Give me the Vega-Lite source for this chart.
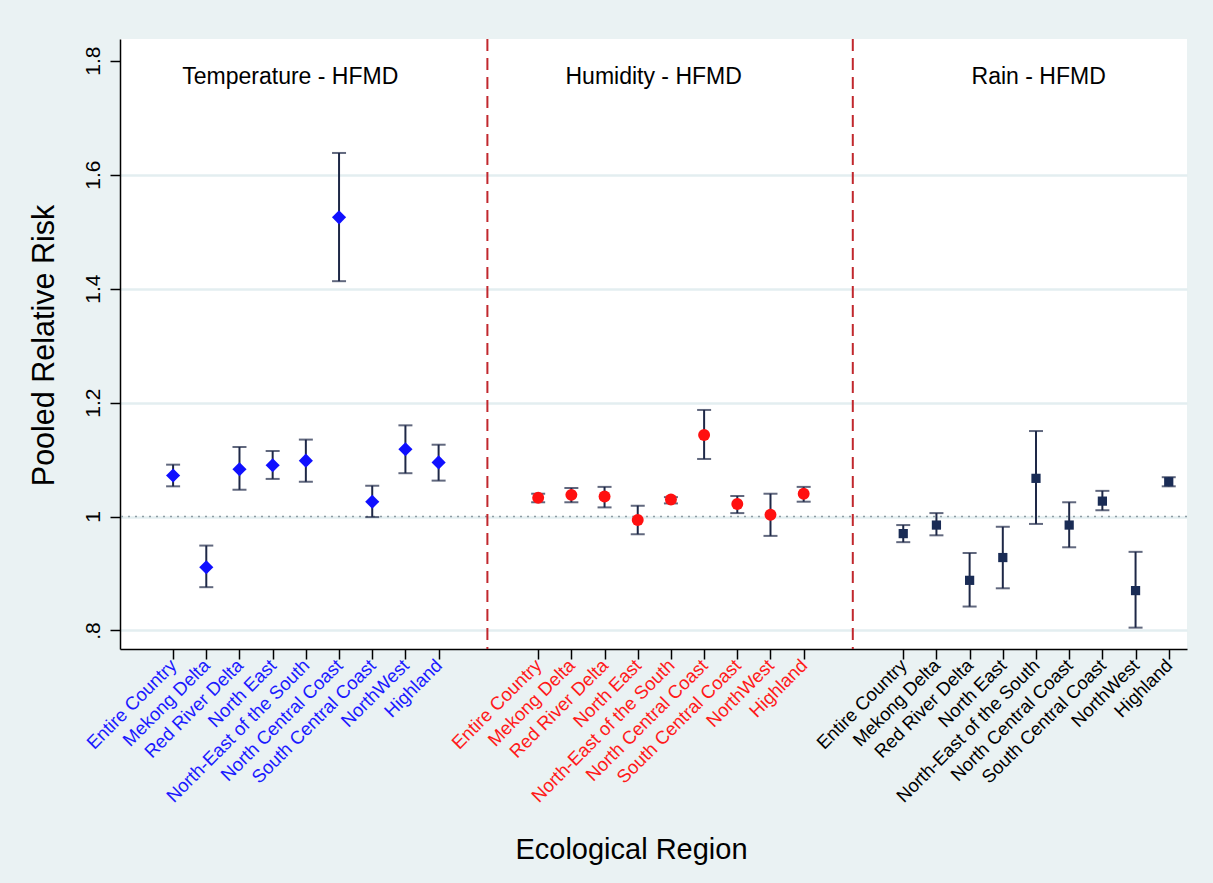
{
  "$schema": "https://vega.github.io/schema/vega-lite/v6.json",
  "width": 1067,
  "height": 610,
  "autosize": {"type": "none"},
  "padding": {"left": 120, "top": 39, "right": 26, "bottom": 234},
  "background": "#eaf2f3",
  "view": {"fill": "white", "stroke": null},
  "config": {"font": "Liberation Sans"},
  "datasets": {
    "est": [
      {"panel": "Temperature", "pos": 0, "region": "Entire Country", "rr": 1.072, "lo": 1.053, "hi": 1.091},
      {"panel": "Temperature", "pos": 1, "region": "Mekong Delta", "rr": 0.911, "lo": 0.876, "hi": 0.949},
      {"panel": "Temperature", "pos": 2, "region": "Red River Delta", "rr": 1.083, "lo": 1.047, "hi": 1.122},
      {"panel": "Temperature", "pos": 3, "region": "North East", "rr": 1.090, "lo": 1.066, "hi": 1.115},
      {"panel": "Temperature", "pos": 4, "region": "North-East of the South", "rr": 1.098, "lo": 1.061, "hi": 1.135},
      {"panel": "Temperature", "pos": 5, "region": "North Central Coast", "rr": 1.525, "lo": 1.413, "hi": 1.638},
      {"panel": "Temperature", "pos": 6, "region": "South Central Coast", "rr": 1.026, "lo": 0.999, "hi": 1.054},
      {"panel": "Temperature", "pos": 7, "region": "NorthWest", "rr": 1.118, "lo": 1.076, "hi": 1.160},
      {"panel": "Temperature", "pos": 8, "region": "Highland", "rr": 1.095, "lo": 1.063, "hi": 1.126},
      {"panel": "Humidity", "pos": 11, "region": "Entire Country", "rr": 1.033, "lo": 1.025, "hi": 1.040},
      {"panel": "Humidity", "pos": 12, "region": "Mekong Delta", "rr": 1.038, "lo": 1.025, "hi": 1.050},
      {"panel": "Humidity", "pos": 13, "region": "Red River Delta", "rr": 1.035, "lo": 1.016, "hi": 1.052},
      {"panel": "Humidity", "pos": 14, "region": "North East", "rr": 0.994, "lo": 0.969, "hi": 1.019},
      {"panel": "Humidity", "pos": 15, "region": "North-East of the South", "rr": 1.030, "lo": 1.023, "hi": 1.034},
      {"panel": "Humidity", "pos": 16, "region": "North Central Coast", "rr": 1.143, "lo": 1.101, "hi": 1.187},
      {"panel": "Humidity", "pos": 17, "region": "South Central Coast", "rr": 1.022, "lo": 1.006, "hi": 1.036},
      {"panel": "Humidity", "pos": 18, "region": "NorthWest", "rr": 1.003, "lo": 0.966, "hi": 1.040},
      {"panel": "Humidity", "pos": 19, "region": "Highland", "rr": 1.040, "lo": 1.026, "hi": 1.052},
      {"panel": "Rain", "pos": 22, "region": "Entire Country", "rr": 0.970, "lo": 0.955, "hi": 0.985},
      {"panel": "Rain", "pos": 23, "region": "Mekong Delta", "rr": 0.985, "lo": 0.967, "hi": 1.006},
      {"panel": "Rain", "pos": 24, "region": "Red River Delta", "rr": 0.888, "lo": 0.842, "hi": 0.936},
      {"panel": "Rain", "pos": 25, "region": "North East", "rr": 0.928, "lo": 0.874, "hi": 0.982},
      {"panel": "Rain", "pos": 26, "region": "North-East of the South", "rr": 1.067, "lo": 0.987, "hi": 1.150},
      {"panel": "Rain", "pos": 27, "region": "North Central Coast", "rr": 0.985, "lo": 0.946, "hi": 1.025},
      {"panel": "Rain", "pos": 28, "region": "South Central Coast", "rr": 1.027, "lo": 1.011, "hi": 1.045},
      {"panel": "Rain", "pos": 29, "region": "NorthWest", "rr": 0.870, "lo": 0.805, "hi": 0.938},
      {"panel": "Rain", "pos": 30, "region": "Highland", "rr": 1.061, "lo": 1.053, "hi": 1.069}
    ],
    "titles": [
      {"pos": 3.53, "rr": 1.759, "label": "Temperature - HFMD"},
      {"pos": 14.48, "rr": 1.759, "label": "Humidity - HFMD"},
      {"pos": 26.08, "rr": 1.759, "label": "Rain - HFMD"}
    ],
    "separators": [{"pos": 9.47}, {"pos": 20.48}],
    "reference": [{"rr": 1}]
  },
  "layer": [
    {
      "data": {"name": "reference"},
      "mark": {"type": "rule", "color": "#8d9ca3", "strokeWidth": 1.5, "strokeDash": [2, 5]},
      "encoding": {
        "y": {
          "field": "rr", "type": "quantitative", "title": "Pooled Relative Risk",
          "scale": {"domain": [0.7675, 1.838], "nice": false, "zero": false},
          "axis": {
            "values": [0.8, 1, 1.2, 1.4, 1.6, 1.8],
            "labelExpr": "datum.value == 1 ? '1' : datum.value < 1 ? '.8' : format(datum.value, '.1f')",
            "labelAngle": -90,
            "labelAlign": "center",
            "labelBaseline": "bottom",
            "labelFontSize": 21,
            "labelColor": "black",
            "labelPadding": 7,
            "tickSize": 10,
            "tickColor": "black",
            "tickWidth": 1.5,
            "domainColor": "black",
            "domainWidth": 1.5,
            "grid": true,
            "gridColor": {"condition": {"test": "datum.value > 1.7", "value": "transparent"}, "value": "#e3eef0"},
            "gridWidth": 2.5,
            "titleFontSize": 30.5,
            "titleFontWeight": "normal",
            "titleColor": "black",
            "titleAngle": -90,
            "titleAlign": "center",
            "titleBaseline": "alphabetic",
            "titleX": -67,
            "titleY": 306
          }
        }
      }
    },
    {
      "data": {"name": "separators"},
      "mark": {"type": "rule", "color": "#c1272d", "strokeWidth": 2, "strokeDash": [12, 7]},
      "encoding": {
        "x": {"field": "pos", "type": "quantitative", "title": "Ecological Region",
              "scale": {"domain": [-1.6, 30.55], "nice": false, "zero": false}}
      }
    },
    {
      "data": {"name": "est"},
      "mark": {"type": "rule", "color": "#1e2847", "strokeWidth": 2},
      "encoding": {
        "x": {
          "field": "pos", "type": "quantitative", "title": "Ecological Region",
          "scale": {"domain": [-1.6, 30.55], "nice": false, "zero": false},
          "axis": {
            "values": [0, 1, 2, 3, 4, 5, 6, 7, 8, 11, 12, 13, 14, 15, 16, 17, 18, 19, 22, 23, 24, 25, 26, 27, 28, 29, 30],
            "labelExpr": "['Entire Country','Mekong Delta','Red River Delta','North East','North-East of the South','North Central Coast','South Central Coast','NorthWest','Highland'][datum.value % 11]",
            "labelAngle": -45,
            "labelAlign": "right",
            "labelBaseline": "middle",
            "labelFontSize": 18.5,
            "labelPadding": 3,
            "labelLimit": 400,
            "labelOverlap": false,
            "labelBound": false,
            "labelFlush": false,
            "labelColor": {
              "condition": [
                {"test": "datum.value < 10", "value": "#1a1aff"},
                {"test": "datum.value < 21", "value": "#ff1a1a"}
              ],
              "value": "#000000"
            },
            "tickSize": 10,
            "tickColor": "black",
            "tickWidth": 1.5,
            "domainColor": "black",
            "domainWidth": 1.5,
            "grid": false,
            "titleFontSize": 29,
            "titleFontWeight": "normal",
            "titleColor": "black",
            "titleAlign": "center",
            "titleBaseline": "alphabetic",
            "titleX": 511,
            "titleY": 209
          }
        },
        "y": {"field": "lo", "type": "quantitative", "title": "Pooled Relative Risk",
              "scale": {"domain": [0.7675, 1.838], "nice": false, "zero": false}},
        "y2": {"field": "hi"}
      }
    },
    {
      "data": {"name": "est"},
      "mark": {"type": "tick", "orient": "horizontal", "color": "#1e2847", "thickness": 2, "size": 14},
      "encoding": {
        "x": {"field": "pos", "type": "quantitative", "title": "Ecological Region",
              "scale": {"domain": [-1.6, 30.55], "nice": false, "zero": false}},
        "y": {"field": "lo", "type": "quantitative", "title": "Pooled Relative Risk",
              "scale": {"domain": [0.7675, 1.838], "nice": false, "zero": false}}
      }
    },
    {
      "data": {"name": "est"},
      "mark": {"type": "tick", "orient": "horizontal", "color": "#1e2847", "thickness": 2, "size": 14},
      "encoding": {
        "x": {"field": "pos", "type": "quantitative", "title": "Ecological Region",
              "scale": {"domain": [-1.6, 30.55], "nice": false, "zero": false}},
        "y": {"field": "hi", "type": "quantitative", "title": "Pooled Relative Risk",
              "scale": {"domain": [0.7675, 1.838], "nice": false, "zero": false}}
      }
    },
    {
      "data": {"name": "est"},
      "mark": {"type": "point", "filled": true, "opacity": 1},
      "encoding": {
        "x": {"field": "pos", "type": "quantitative", "title": "Ecological Region",
              "scale": {"domain": [-1.6, 30.55], "nice": false, "zero": false}},
        "y": {"field": "rr", "type": "quantitative", "title": "Pooled Relative Risk",
              "scale": {"domain": [0.7675, 1.838], "nice": false, "zero": false}},
        "color": {"field": "panel", "type": "nominal", "legend": null,
                  "scale": {"domain": ["Temperature", "Humidity", "Rain"], "range": ["#1010ff", "#ff1010", "#1a2c55"]}},
        "shape": {"field": "panel", "type": "nominal", "legend": null,
                  "scale": {"domain": ["Temperature", "Humidity", "Rain"], "range": ["diamond", "circle", "square"]}},
        "size": {"field": "panel", "type": "nominal", "legend": null,
                 "scale": {"domain": ["Temperature", "Humidity", "Rain"], "range": [200, 85, 100]}}
      }
    },
    {
      "data": {"name": "titles"},
      "mark": {"type": "text", "fontSize": 23, "color": "black", "align": "center", "baseline": "alphabetic"},
      "encoding": {
        "x": {"field": "pos", "type": "quantitative", "title": "Ecological Region",
              "scale": {"domain": [-1.6, 30.55], "nice": false, "zero": false}},
        "y": {"field": "rr", "type": "quantitative", "title": "Pooled Relative Risk",
              "scale": {"domain": [0.7675, 1.838], "nice": false, "zero": false}},
        "text": {"field": "label"}
      }
    }
  ]
}
